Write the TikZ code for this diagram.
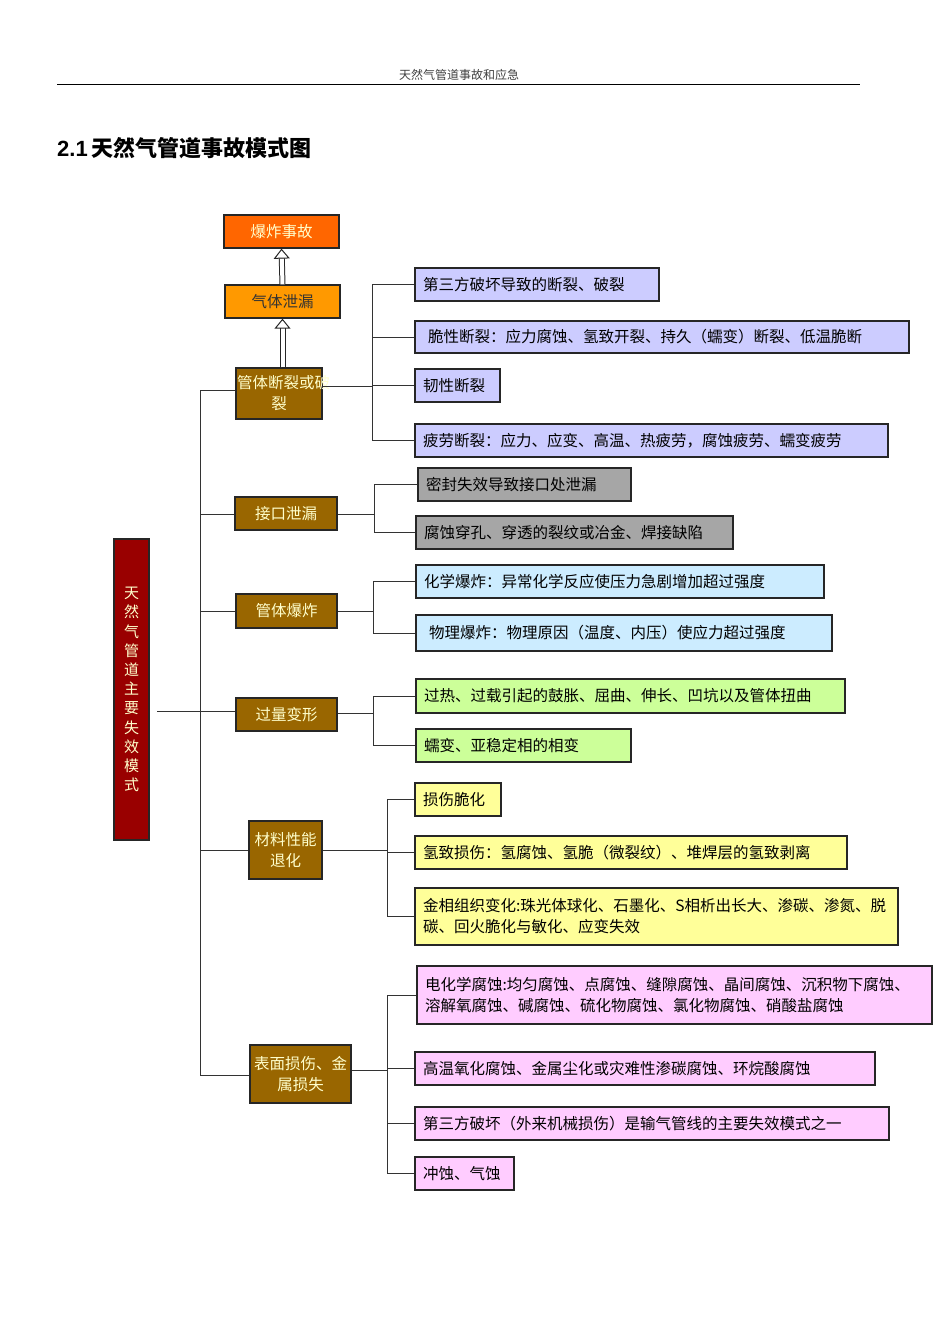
\documentclass[tikz,border=0pt]{standalone}
\usepackage{fontspec}
\setmainfont{Liberation Sans}
\newfontfamily\cjk{Noto Sans CJK SC}
\usetikzlibrary{arrows.meta}
\definecolor{cOrange}{HTML}{FF6600}
\definecolor{cAmber}{HTML}{FF9900}
\definecolor{cBrown}{HTML}{996600}
\definecolor{cRed}{HTML}{990000}
\definecolor{cLav}{HTML}{CCCCFF}
\definecolor{cGray}{HTML}{A6A6A6}
\definecolor{cBlue}{HTML}{CCECFF}
\definecolor{cGreen}{HTML}{CCFF99}
\definecolor{cYellow}{HTML}{FFFF99}
\definecolor{cPink}{HTML}{FFCCFF}
\definecolor{cCream}{HTML}{FFFFCC}
\tikzset{
 box/.style={draw=black!85, line width=1.3pt, inner xsep=8pt, inner ysep=0pt, font=\cjk\fontsize{15.5}{21}\selectfont},
 leaf/.style={box, align=left, text=black},
 mid/.style={box, fill=cBrown, align=center, text=cCream, inner xsep=1pt},
 conn/.style={draw=black!80, line width=1pt},
 up/.style={double=white, double distance=4pt, line width=1pt, draw=black!85, -{Triangle[open, length=10pt, width=16pt]}}
}
\newcommand\bx[7]{\pgfmathsetmacro\tw{#4-#2-16}\pgfmathsetmacro\bh{#5-#3}%
 \node[#6, text width=\tw pt, minimum height=\bh pt] (#1) at ({(#2+#4)/2},{(#3+#5)/2}) {#7};}
\begin{document}
\begin{tikzpicture}[x=1pt,y=-1pt]
\useasboundingbox (0,0) rectangle (950,1344);
\node[font=\cjk\fontsize{12}{14}\selectfont, text=black!75] (hdr) at (459,75) {天然气管道事故和应急};
\draw[line width=0.8pt] (57,84) -- (860,84);
\node[anchor=west, inner sep=0pt, font=\fontsize{22}{26}\selectfont\bfseries] (title) at (57,148) {2.1\,{\cjk 天然气管道事故模式图}};

\bx{a1}{224}{215}{339}{248}{box,fill=cOrange,text=cCream,align=center}{爆炸事故}
\bx{a2}{225}{285}{340}{318}{box,fill=cAmber,text=black!80,align=center}{气体泄漏}
\bx{m1}{229}{368}{329}{419}{mid}{管体断裂或破\\裂}
\bx{m2}{228}{497}{344}{530}{mid}{接口泄漏}
\bx{m3}{229}{594}{344}{628}{mid}{管体爆炸}
\bx{m4}{229}{698}{344}{731}{mid}{过量变形}
\bx{m5}{242}{821}{329}{879}{mid}{材料性能\\退化}
\bx{m6}{243}{1045}{358}{1103}{mid}{表面损伤、金\\属损失}
\node[box, fill=cRed, text=cCream, minimum width=35pt, minimum height=301pt, inner xsep=0pt, align=center, font=\cjk\fontsize{15}{19.2}\selectfont] (root) at (131.5,689.5) {天\\然\\气\\管\\道\\主\\要\\失\\效\\模\\式};

\draw[up] (m1.north -| a2) -- (a2.south);
\draw[up] (a2.north) -- (a1.south);

% leaves
\bx{l11}{415}{268}{659}{301}{leaf,fill=cLav}{第三方破坏导致的断裂、破裂}
\bx{l12}{415}{321}{909}{353}{leaf,fill=cLav}{\ 脆性断裂：应力腐蚀、氢致开裂、持久（蠕变）断裂、低温脆断}
\bx{l13}{415}{369}{500}{402}{leaf,fill=cLav}{韧性断裂}
\bx{l14}{415}{424}{888}{457}{leaf,fill=cLav}{疲劳断裂：应力、应变、高温、热疲劳，腐蚀疲劳、蠕变疲劳}
\bx{l21}{418}{468}{631}{501}{leaf,fill=cGray}{密封失效导致接口处泄漏}
\bx{l22}{416}{516}{733}{549}{leaf,fill=cGray}{腐蚀穿孔、穿透的裂纹或冶金、焊接缺陷}
\bx{l31}{416}{565}{824}{598}{leaf,fill=cBlue}{化学爆炸：异常化学反应使压力急剧增加超过强度}
\bx{l32}{416}{615}{832}{651}{leaf,fill=cBlue}{\ 物理爆炸：物理原因（温度、内压）使应力超过强度}
\bx{l41}{416}{679}{845}{713}{leaf,fill=cGreen}{过热、过载引起的鼓胀、屈曲、伸长、凹坑以及管体扭曲}
\bx{l42}{416}{729}{631}{762}{leaf,fill=cGreen}{蠕变、亚稳定相的相变}
\bx{l51}{415}{783}{501}{816}{leaf,fill=cYellow}{损伤脆化}
\bx{l52}{415}{836}{847}{869}{leaf,fill=cYellow}{氢致损伤：氢腐蚀、氢脆（微裂纹）、堆焊层的氢致剥离}
\bx{l53}{415}{888}{898}{945}{leaf,fill=cYellow}{金相组织变化:珠光体球化、石墨化、S相析出长大、渗碳、渗氮、脱\\碳、回火脆化与敏化、应变失效}
\bx{l61}{417}{966}{932}{1024}{leaf,fill=cPink}{电化学腐蚀:均匀腐蚀、点腐蚀、缝隙腐蚀、晶间腐蚀、沉积物下腐蚀、\\溶解氧腐蚀、碱腐蚀、硫化物腐蚀、氯化物腐蚀、硝酸盐腐蚀}
\bx{l62}{415}{1052}{875}{1085}{leaf,fill=cPink}{高温氧化腐蚀、金属尘化或灾难性渗碳腐蚀、环烷酸腐蚀}
\bx{l63}{415}{1107}{889}{1140}{leaf,fill=cPink}{第三方破坏（外来机械损伤）是输气管线的主要失效模式之一}
\bx{l64}{415}{1157}{514}{1190}{leaf,fill=cPink}{冲蚀、气蚀}

% main spine
\coordinate (rj) at (200,711);
\draw[conn] (157,711) -- (rj);
\draw[conn] (200,390) -- (200,1075);
\draw[conn] (200,390) -- (m1.west |- 0,390);
\draw[conn] (200,514) -- (m2.west |- 0,514);
\draw[conn] (200,611) -- (m3.west |- 0,611);
\draw[conn] (200,711) -- (m4.west |- 0,711);
\draw[conn] (200,850) -- (m5.west |- 0,850);
\draw[conn] (200,1075) -- (m6.west |- 0,1075);

% group connectors
\newcommand\grp[4]{% parent, x, y, leaves
 \draw[conn] (#1.east |- 0,#3) -- (#2,#3);
 \foreach \l in {#4} \draw[conn] (#2,#3) |- (\l.west);}
\grp{m1}{372}{386}{l11,l12,l13,l14}
\grp{m2}{374}{514}{l21,l22}
\grp{m3}{373}{611}{l31,l32}
\grp{m4}{373}{713}{l41,l42}
\grp{m5}{387}{850}{l51,l52,l53}
\grp{m6}{387}{1070}{l61,l62,l63,l64}
\end{tikzpicture}
\end{document}
